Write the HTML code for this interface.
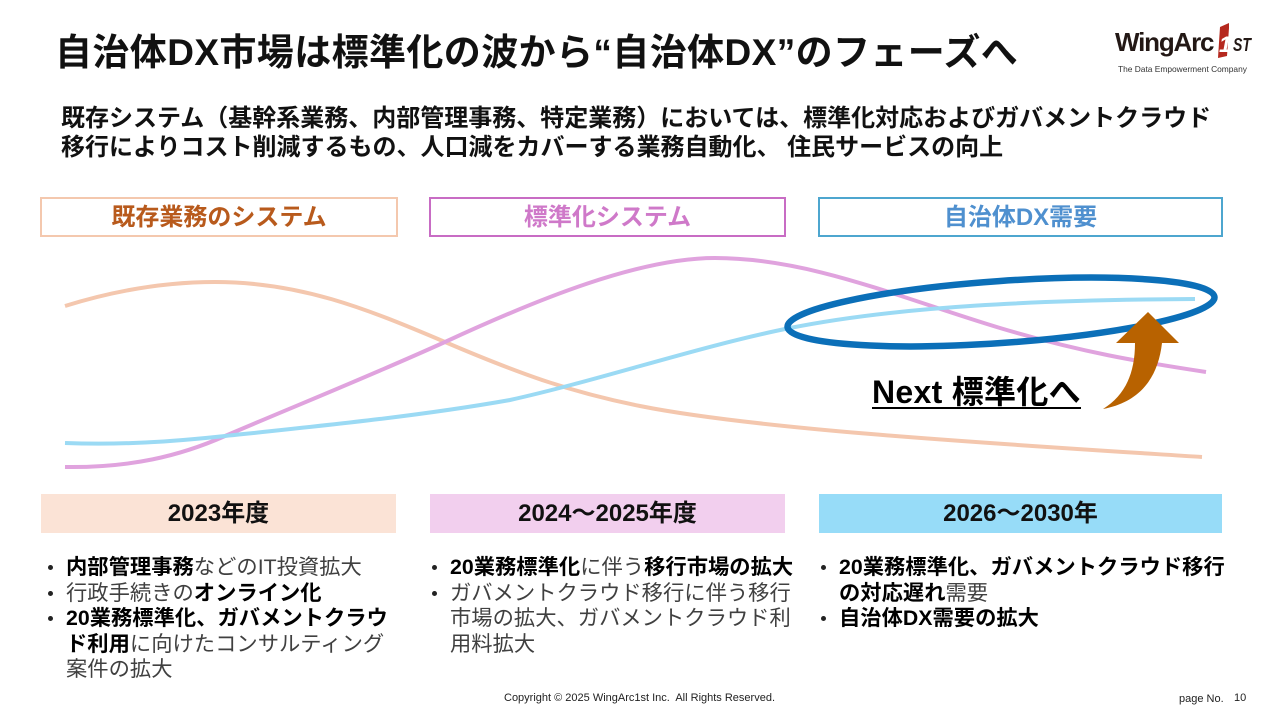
<!DOCTYPE html>
<html lang="ja"><head><meta charset="utf-8"><title>自治体DX市場</title>
<style>
html,body{margin:0;padding:0;background:#fff}
#p{position:relative;width:1280px;height:720px;overflow:hidden;background:#fff;font-family:"Liberation Sans","Noto Sans CJK JP",sans-serif;color:#000}
.t{position:absolute;white-space:nowrap;line-height:1}
.b{font-weight:bold}
.box{position:absolute;box-sizing:border-box;background:#fff;text-align:center;font-weight:bold;font-size:24px;line-height:37px;height:40px;top:197px}
.yr{position:absolute;top:494px;height:39px;text-align:center;font-weight:bold;font-size:24px;line-height:39px;color:#111}
.l{position:absolute;font-size:21.3px;line-height:25.6px;color:#404040;white-space:nowrap}
.l b{color:#000}
.dot{position:absolute;width:5px;height:5px;border-radius:50%;background:#222}
</style></head><body><div id="p">

<div class="t b" style="left:55px;top:34px;font-size:37px;letter-spacing:.4px;color:#111">自治体DX市場は標準化の波から“自治体DX”のフェーズへ</div>

<div class="t b" style="left:1115px;top:29px;font-size:26px;color:#231815;letter-spacing:-1.2px">WingArc</div>
<svg style="position:absolute;left:1205px;top:20px" width="60" height="42"><polygon points="15,7 24,3 24,8 22,36 13,38" fill="#b5281e"/><text x="14" y="32" font-family="Liberation Sans" font-size="22" font-weight="bold" font-style="italic" fill="#fff">1</text><text x="28" y="31" font-family="Liberation Sans" font-size="18" font-weight="bold" font-style="italic" fill="#231815" textLength="18" lengthAdjust="spacingAndGlyphs">ST</text></svg>
<div class="t" style="left:1118px;top:65px;font-size:8.4px;color:#333">The Data Empowerment Company</div>

<div class="t b" style="left:61px;top:107px;font-size:24px;color:#111">既存システム（基幹系業務、内部管理事務、特定業務）においては、標準化対応およびガバメントクラウド</div>
<div class="t b" style="left:61px;top:136px;font-size:24px;color:#111">移行によりコスト削減するもの、人口減をカバーする業務自動化、 住民サービスの向上</div>

<div class="box" style="left:40px;width:358px;border:2px solid #f4c8ae;color:#b85a1c">既存業務のシステム</div>
<div class="box" style="left:429px;width:357px;border:2px solid #c86cc4;color:#cf79c9">標準化システム</div>
<div class="box" style="left:818px;width:405px;border:2px solid #4da6cf;color:#4f90cf">自治体DX需要</div>

<svg style="position:absolute;left:0;top:0" width="1280" height="720" fill="none">
<path d="M65 306C110 292 160 282 215 282C300 282 365 308 445 342C520 374 570 392 640 406C760 430 1000 444 1202 457" stroke="#f4c7ae" stroke-width="4"/>
<path d="M65 467C130 468 180 456 225 436C300 404 370 376 445 342C540 298 640 258 715 258C810 258 900 298 1000 328C1080 352 1140 362 1206 372" stroke="#e0a3de" stroke-width="4"/>
<path d="M65 443C120 445 170 442 225 436C320 426 420 416 510 400C600 380 700 346 790 328C900 306 1040 300 1195 299" stroke="#9bdaf4" stroke-width="4"/>
<ellipse cx="1001" cy="312" rx="214" ry="31" transform="rotate(-4 1001 312)" stroke="#0b6fb8" stroke-width="6.5"/>
<path d="M1148 312L1179 343H1162C1158 378 1140 402 1103 409C1124 396 1135 375 1135 343H1116Z" fill="#b86200"/>
</svg>

<div class="t b" style="left:872px;top:376px;font-size:32px;letter-spacing:.3px;color:#000;border-bottom:2px solid #000;height:31px">Next 標準化へ</div>

<div class="yr" style="left:41px;width:355px;background:#fbe3d6">2023年度</div>
<div class="yr" style="left:430px;width:355px;background:#f2cfee">2024～2025年度</div>
<div class="yr" style="left:819px;width:403px;background:#97dcf8">2026～2030年</div>

<div class="dot" style="left:48px;top:565px"></div>
<div class="dot" style="left:48px;top:591px"></div>
<div class="dot" style="left:48px;top:616px"></div>
<div class="l" style="left:66px;top:555px"><b>内部管理事務</b>などのIT投資拡大<br>行政手続きの<b>オンライン化</b><br><b>20業務標準化、ガバメントクラウ</b><br><b>ド利用</b>に向けたコンサルティング<br>案件の拡大</div>

<div class="dot" style="left:432px;top:565px"></div>
<div class="dot" style="left:432px;top:591px"></div>
<div class="l" style="left:450px;top:555px"><b>20業務標準化</b>に伴う<b>移行市場の拡大</b><br>ガバメントクラウド移行に伴う移行<br>市場の拡大、ガバメントクラウド利<br>用料拡大</div>

<div class="dot" style="left:821px;top:565px"></div>
<div class="dot" style="left:821px;top:616px"></div>
<div class="l" style="left:839px;top:555px"><b>20業務標準化、ガバメントクラウド移行</b><br><b>の対応遅れ</b>需要<br><b>自治体DX需要の拡大</b></div>

<div class="t" style="left:504px;top:693px;font-size:11px;color:#222">Copyright © 2025 WingArc1st Inc.&nbsp; All Rights Reserved.</div>
<div class="t" style="left:1179px;top:694px;font-size:11px;color:#222">page No.</div>
<div class="t" style="left:1234px;top:693px;font-size:11px;color:#222">10</div>
</div></body></html>
